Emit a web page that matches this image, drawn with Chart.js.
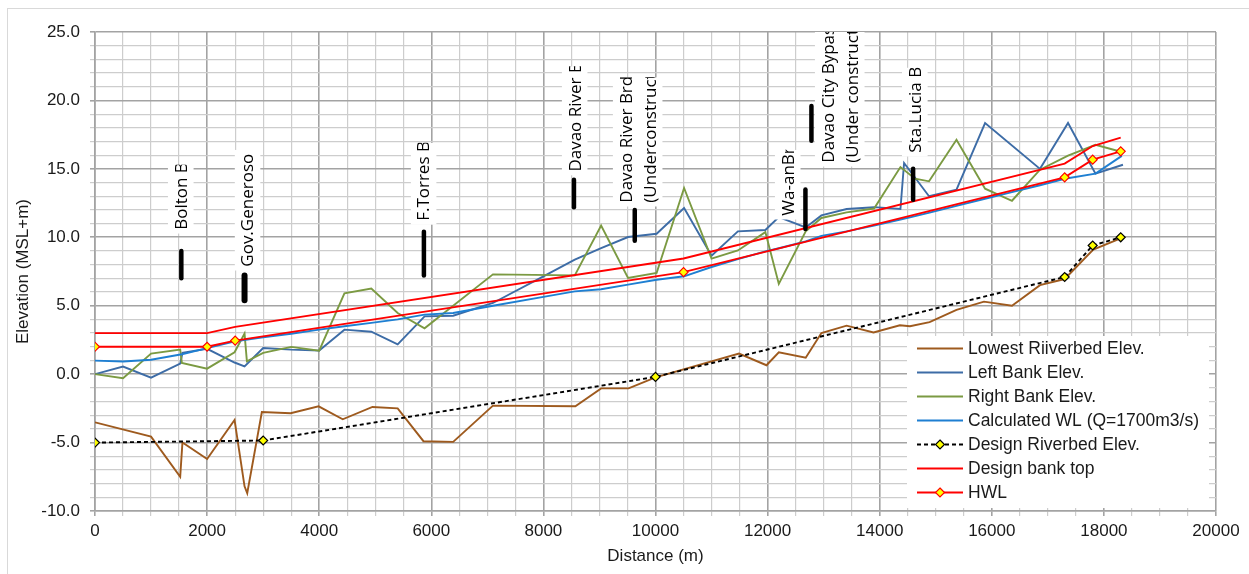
<!DOCTYPE html>
<html>
<head>
<meta charset="utf-8">
<script src="https://cdn.jsdelivr.net/npm/chart.js@4.4.1/dist/chart.umd.min.js"></script>
<style>
  html, body { margin: 0; padding: 0; background: #fff; }
  #wrap { position: relative; width: 1249px; height: 574px; }
</style>
</head>
<body>
<div id="wrap"><canvas id="chart"></canvas></div>
<script>
// 거리(m) / 표고(MSL+m) 읽은 값
const lowestX = [0, 1000, 1520, 1560, 2000, 2490, 2668, 2716, 2977, 3490, 3990, 4420, 4950, 5400, 5860, 6390, 7100, 8570, 9030, 9520, 10000, 11490, 11980, 12200, 12680, 12960, 13410, 13890, 14360, 14540, 14890, 15370, 15860, 16360, 16860, 17300, 17810, 18320]
const lowestY = [-3.52, -4.57, -7.5, -5.0, -6.2, -3.35, -8.2, -8.7, -2.77, -2.86, -2.35, -3.3, -2.4, -2.5, -4.9, -4.95, -2.3, -2.35, -1.04, -1.04, -0.23, 1.5, 0.65, 1.6, 1.2, 3.0, 3.54, 3.05, 3.57, 3.5, 3.8, 4.7, 5.3, 5.0, 6.5, 6.95, 9.1, 9.95]

const leftX = [0, 500, 1000, 1520, 1560, 2000, 2490, 2668, 3000, 3500, 4000, 4450, 4930, 5400, 5880, 6390, 7100, 8000, 8560, 9030, 9510, 10020, 10510, 11000, 11470, 11960, 12200, 12680, 12960, 13410, 13900, 14370, 14435, 14880, 15370, 15880, 16860, 17360, 17850, 18340]
const leftY = [0.0, 0.55, -0.26, 0.77, 1.55, 1.85, 0.85, 0.57, 1.91, 1.79, 1.72, 3.25, 3.1, 2.18, 4.22, 4.27, 5.2, 7.15, 8.36, 9.2, 10.02, 10.26, 12.14, 8.66, 10.43, 10.53, 11.48, 10.72, 11.6, 12.07, 12.2, 12.07, 15.43, 13.0, 13.48, 18.35, 15.0, 18.35, 14.65, 15.3]

const rightX = [0, 500, 1000, 1520, 1550, 2000, 2490, 2668, 2710, 3000, 3500, 4000, 4450, 4930, 5400, 5880, 7100, 8560, 9030, 9510, 10020, 10510, 11000, 11470, 11960, 12200, 12680, 12960, 13410, 13900, 14370, 14630, 14880, 15370, 15880, 16360, 16860, 17360, 17850, 18320]
const rightY = [0.0, -0.3, 1.5, 1.79, 0.82, 0.4, 1.6, 2.96, 0.94, 1.55, 1.99, 1.72, 5.9, 6.25, 4.47, 3.35, 7.29, 7.22, 10.85, 7.03, 7.39, 13.6, 8.44, 9.04, 10.38, 6.59, 10.43, 11.41, 11.82, 12.1, 15.13, 14.28, 14.09, 17.13, 13.55, 12.67, 14.94, 15.96, 16.76, 16.23]

const calcX = [0, 500, 1000, 1550, 2000, 2500, 3000, 3500, 4000, 4450, 4930, 5400, 5880, 6390, 7100, 8000, 8560, 9030, 9510, 10020, 10510, 11000, 11470, 11960, 12200, 12680, 12960, 13410, 13900, 14370, 14540, 14890, 15370, 15860, 16360, 16860, 17300, 17850, 18320]
const calcY = [0.99, 0.92, 1.05, 1.45, 1.9, 2.4, 2.7, 2.95, 3.25, 3.5, 3.75, 4.0, 4.35, 4.47, 5.0, 5.65, 6.05, 6.2, 6.54, 6.9, 7.15, 7.83, 8.41, 8.97, 9.2, 9.7, 10.1, 10.43, 10.85, 11.3, 11.45, 11.8, 12.3, 12.8, 13.3, 13.8, 14.28, 14.65, 15.95]

const bedX = [0, 3000, 10000, 17300, 17800, 18300]
const bedY = [-5.0, -4.85, -0.2, 7.1, 9.4, 10.0]

const bankTopX = [0, 2000, 2500, 10500, 17300, 17800, 18300]
const bankTopY = [3.0, 3.0, 3.45, 8.45, 15.38, 16.67, 17.28]

const hwlX = [0, 2000, 2500, 10500, 17300, 17800, 18300]
const hwlY = [2.0, 2.0, 2.45, 7.45, 14.38, 15.67, 16.28]

// 교량 위치 (거리, 하단, 상단 표고)
const bridgeNames = [
  ['Bolton Bridge'],
  ['Gov.Generoso Bridge'],
  ['F.Torres Bridge'],
  ['Davao River Bridge'],
  ['Davao River Brdge', '(Underconstruction)'],
  ['Wa-anBridge'],
  ['Davao City Bypass', '(Under construction)'],
  ['Sta.Lucia Bridge']
]
const bridgeX = [1540, 2668, 5868, 8545, 9630, 12675, 12782, 14596]
const bridgeLow = [7.0, 5.4, 7.2, 12.2, 9.75, 10.6, 17.05, 12.75]
const bridgeHigh = [9.0, 7.2, 10.4, 14.2, 12.0, 13.5, 19.6, 15.0]

const xTicks = [0, 2000, 4000, 6000, 8000, 10000, 12000, 14000, 16000, 18000, 20000]
const yTicks = [-10, -5, 0, 5, 10, 15, 20, 25]

// 교량 라벨 박스 배치 (x, 하단, 상단 표고)
const labelBox = [
  { x: 1530, bottom: 10.55, top: 15.3 },
  { x: 2722, bottom: 7.85, top: 16.4 },
  { x: 5863, bottom: 11.2, top: 16.9 },
  { x: 8558, bottom: 14.8, top: 22.5 },
  { x: 9682, bottom: 12.53, top: 21.7 },
  { x: 12359, bottom: 11.58, top: 16.4 },
  { x: 13287, bottom: 15.45, top: 25 },
  { x: 14626, bottom: 16.18, top: 22.4 }
]

const FONT = "'Liberation Sans', Arial, sans-serif"
const pts = (xs, ys) => xs.map((x, i) => ({ x, y: ys[i] }))

const series = [
  { label: 'Lowest Riiverbed Elev.', data: pts(lowestX, lowestY), color: '#9e5a1e', order: 7 },
  { label: 'Left Bank Elev.', data: pts(leftX, leftY), color: '#3d6ca6', order: 6 },
  { label: 'Right Bank Elev.', data: pts(rightX, rightY), color: '#7b9a42', order: 5 },
  { label: 'Calculated WL (Q=1700m3/s)', data: pts(calcX, calcY), color: '#1e7fd2', order: 4 },
  { label: 'Design Riverbed Elev.', data: pts(bedX, bedY), color: '#000000', order: 3,
    dash: [4, 3], marker: '#ffff00', markerBorder: '#000000' },
  { label: 'Design bank top', data: pts(bankTopX, bankTopY), color: '#ff0000', order: 2 },
  { label: 'HWL', data: pts(hwlX, hwlY), color: '#ff0000', order: 1,
    marker: '#ffff00', markerBorder: '#ff0000' }
]

const datasets = series.map(s => ({
  label: s.label,
  data: s.data,
  borderColor: s.color,
  borderWidth: 1.9,
  borderDash: s.dash || [],
  pointRadius: s.marker ? 4.5 : 0,
  pointStyle: 'rectRot',
  pointBackgroundColor: s.marker || s.color,
  pointBorderColor: s.markerBorder || s.color,
  pointBorderWidth: 1.2,
  tension: 0,
  order: s.order
}))

bridgeX.forEach((x, i) => {
  datasets.push({
    label: 'bridge' + i,
    data: [{ x, y: bridgeLow[i] }, { x, y: bridgeHigh[i] }],
    borderColor: '#000',
    borderWidth: i === 1 ? 6 : 4.5,
    borderCapStyle: 'round',
    pointRadius: 0,
    order: 0
  })
})

const frame = {
  id: 'frame',
  beforeDraw(chart) {
    const { ctx } = chart
    ctx.save()
    ctx.fillStyle = '#fff'
    ctx.fillRect(0, 0, chart.width, chart.height)
    ctx.strokeStyle = '#d9d9d9'
    ctx.lineWidth = 1
    ctx.strokeRect(7.5, 8.5, 1300, 700)
    ctx.restore()
  }
}

const bridgeLabels = {
  id: 'bridgeLabels',
  afterDatasetsDraw(chart) {
    const { ctx, chartArea } = chart
    const xs = chart.scales.x, ys = chart.scales.y
    ctx.save()
    ctx.font = "17px 'Open Sans', sans-serif"
    ctx.fillStyle = '#000'
    labelBox.forEach((b, i) => {
      const lines = bridgeNames[i]
      const cx = xs.getPixelForValue(b.x)
      const bottom = ys.getPixelForValue(b.bottom)
      const top = Math.max(ys.getPixelForValue(b.top), chartArea.top)
      const w = lines.length * 24 + 2
      ctx.save()
      ctx.beginPath()
      ctx.rect(cx - w / 2, top, w, bottom - top + 4)
      ctx.clip()
      ctx.fillStyle = '#fff'
      ctx.fillRect(cx - w / 2, top, w, bottom - top + 4)
      ctx.fillStyle = '#000'
      ctx.translate(cx, bottom)
      ctx.rotate(-Math.PI / 2)
      ctx.textAlign = 'left'
      ctx.textBaseline = 'middle'
      lines.forEach((t, k) => {
        const off = (k - (lines.length - 1) / 2) * 24
        ctx.fillText(t, 0, off + 1)
      })
      ctx.restore()
    })
    ctx.restore()
  }
}

const boxLegend = {
  id: 'boxLegend',
  afterDraw(chart) {
    const { ctx } = chart
    const left = 907, top = 336, right = 1209, bottom = 508
    ctx.save()
    ctx.fillStyle = '#fff'
    ctx.fillRect(left, top, right - left, bottom - top)
    ctx.font = '17.5px ' + FONT
    ctx.textBaseline = 'middle'
    series.forEach((s, i) => {
      const y = 348.5 + i * 24
      ctx.beginPath()
      ctx.setLineDash(s.dash || [])
      ctx.strokeStyle = s.color
      ctx.lineWidth = 1.9
      ctx.moveTo(917, y)
      ctx.lineTo(963, y)
      ctx.stroke()
      ctx.setLineDash([])
      if (s.marker) {
        ctx.beginPath()
        ctx.moveTo(940, y - 4.5)
        ctx.lineTo(944.5, y)
        ctx.lineTo(940, y + 4.5)
        ctx.lineTo(935.5, y)
        ctx.closePath()
        ctx.fillStyle = s.marker
        ctx.fill()
        ctx.strokeStyle = s.markerBorder
        ctx.lineWidth = 1.2
        ctx.stroke()
      }
      ctx.fillStyle = '#1a1a1a'
      ctx.fillText(s.label, 968, y + 1)
    })
    ctx.restore()
  }
}

const isMajor = major => ctx => ctx.tick && major.includes(ctx.tick.value)
const gridColor = major => ctx => isMajor(major)(ctx) ? '#a3a3a3' : '#cdcdcd'
const gridWidth = major => ctx => isMajor(major)(ctx) ? 1.6 : 1.2

new Chart(document.getElementById('chart'), {
  type: 'line',
  data: { datasets },
  plugins: [frame, bridgeLabels, boxLegend],
  options: {
    responsive: true,
    maintainAspectRatio: false,
    animation: false,
    layout: { padding: { top: 32, right: 33, left: 0, bottom: 0 } },
    plugins: { legend: { display: false }, tooltip: { enabled: false } },
    scales: {
      x: {
        type: 'linear',
        min: 0, max: 20000,
        afterFit: s => { s.height = 63 },
        grid: { color: gridColor(xTicks), tickColor: gridColor(xTicks), lineWidth: gridWidth(xTicks), tickLength: 5 },
        border: { color: '#a3a3a3', width: 1.6 },
        ticks: {
          stepSize: 500, autoSkip: false, maxRotation: 0, padding: 5,
          color: '#1a1a1a', font: { family: FONT, size: 17 },
          callback: v => xTicks.includes(v) ? String(v) : ''
        },
        title: { display: true, text: 'Distance (m)', color: '#1a1a1a',
          font: { family: FONT, size: 17 }, padding: { bottom: 7 } }
      },
      y: {
        min: -10, max: 25,
        afterFit: s => { s.width = 95 },
        grid: { color: gridColor(yTicks), tickColor: gridColor(yTicks), lineWidth: gridWidth(yTicks), tickLength: 5 },
        border: { color: '#a3a3a3', width: 1.6 },
        ticks: {
          stepSize: 1, autoSkip: false, padding: 10,
          color: '#1a1a1a', font: { family: FONT, size: 17 },
          callback: v => yTicks.includes(v) ? v.toFixed(1) : ''
        },
        title: { display: true, text: 'Elevation (MSL+m)', color: '#1a1a1a',
          font: { family: FONT, size: 17 }, padding: { top: 13 } }
      }
    }
  }
})
</script>
</body>
</html>
